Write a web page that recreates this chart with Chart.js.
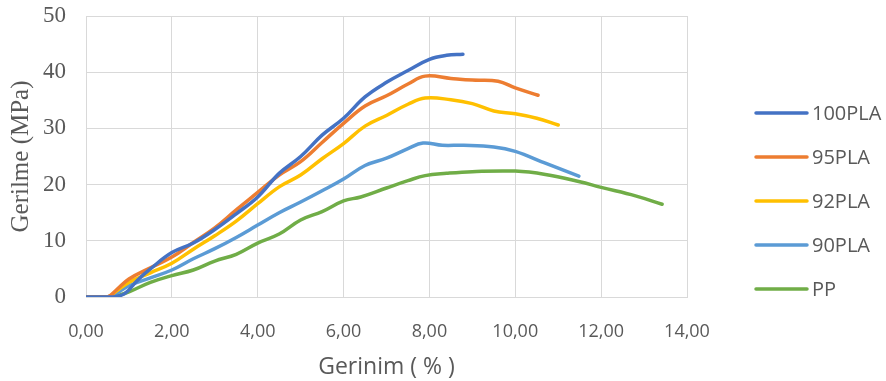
<!DOCTYPE html>
<html>
<head>
<meta charset="utf-8">
<script src="https://cdn.jsdelivr.net/npm/chart.js@4.4.1/dist/chart.umd.min.js"></script>
<style>
  html, body { margin: 0; padding: 0; background: #fff; }
  #wrap { width: 886px; height: 381px; }
</style>
</head>
<body>
<div id="wrap"><canvas id="chart"></canvas></div>
<script>
// strain (%) / stress (MPa)
var strain100 = [0, 0.3, 0.6, 0.9, 1.2, 1.5, 2.0, 2.5, 3.0, 3.5, 4.0, 4.5, 5.0, 5.5, 6.0, 6.5, 7.0, 7.5, 8.0, 8.4, 8.78];
var stress100 = [0, 0, 0, 0.6, 3.0, 5.0, 7.9, 9.6, 12.0, 14.8, 17.8, 22.0, 25.0, 28.8, 31.8, 35.6, 38.2, 40.3, 42.3, 43.0, 43.2];

var strain95 = [0, 0.5, 0.7, 1.0, 1.5, 2.0, 2.5, 3.0, 3.5, 4.0, 4.5, 5.0, 5.5, 6.0, 6.5, 7.0, 7.5, 7.9, 8.5, 9.0, 9.6, 10.0, 10.53];
var stress95 = [0, 0, 1.2, 3.2, 5.2, 7.1, 9.7, 12.3, 15.5, 18.6, 21.7, 24.1, 27.5, 30.9, 34.0, 35.8, 37.9, 39.3, 38.9, 38.6, 38.4, 37.2, 35.9];

var strain92 = [0, 0.5, 0.7, 1.0, 1.5, 2.0, 2.5, 3.0, 3.5, 4.0, 4.5, 5.0, 5.5, 6.0, 6.5, 7.0, 7.5, 7.9, 8.5, 9.0, 9.5, 10.0, 10.5, 11.0];
var stress92 = [0, 0, 1.0, 2.6, 4.3, 6.0, 8.5, 10.9, 13.5, 16.6, 19.6, 21.7, 24.6, 27.3, 30.4, 32.3, 34.3, 35.4, 35.1, 34.4, 33.1, 32.6, 31.8, 30.6];

var strain90 = [0, 0.5, 0.7, 1.0, 1.5, 2.0, 2.5, 3.0, 3.5, 4.0, 4.5, 5.0, 5.5, 6.0, 6.5, 7.0, 7.5, 7.85, 8.3, 8.8, 9.5, 10.0, 10.7, 11.48];
var stress90 = [0, 0, 0.6, 2.0, 3.4, 4.8, 6.8, 8.6, 10.6, 12.8, 15.0, 16.9, 18.9, 21.0, 23.4, 24.7, 26.4, 27.4, 27.0, 27.0, 26.7, 25.9, 23.8, 21.5];

var strainPP = [0, 0.5, 0.8, 1.0, 1.5, 2.0, 2.5, 3.0, 3.5, 4.0, 4.5, 5.0, 5.5, 6.0, 6.4, 7.0, 7.5, 7.9, 8.4, 9.0, 10.0, 10.7, 11.5, 12.0, 12.8, 13.42];
var stressPP = [0, 0, 0.4, 0.9, 2.6, 3.8, 4.8, 6.4, 7.6, 9.6, 11.2, 13.7, 15.2, 17.1, 17.8, 19.4, 20.7, 21.6, 22.0, 22.3, 22.4, 21.8, 20.5, 19.5, 18.0, 16.5];

var seriesNames = ['100PLA', '95PLA', '92PLA', '90PLA', 'PP'];
var seriesColors = ['#4472C4', '#ED7D31', '#FFC000', '#5B9BD5', '#70AD47'];

function pts(xs, ys) {
  return xs.map(function(x, i) { return { x: x, y: ys[i] }; });
}

var allData = [
  pts(strain100, stress100),
  pts(strain95, stress95),
  pts(strain92, stress92),
  pts(strain90, stress90),
  pts(strainPP, stressPP)
];

// legend drawn by hand so the spacing matches
var sideLegend = {
  id: 'sideLegend',
  afterDraw: function(chart) {
    var ctx = chart.ctx;
    ctx.save();
    chart.data.datasets.forEach(function(ds, i) {
      var y = 113 + i * 44;
      ctx.beginPath();
      ctx.strokeStyle = ds.borderColor;
      ctx.lineWidth = 3.5;
      ctx.lineCap = 'round';
      ctx.moveTo(756, y);
      ctx.lineTo(807, y);
      ctx.stroke();
      ctx.fillStyle = '#595959';
      ctx.font = '20px "Open Sans"';
      ctx.textBaseline = 'middle';
      ctx.textAlign = 'left';
      ctx.fillText(ds.label, 812, y + 1);
    });
    ctx.restore();
  }
};

var config = {
  type: 'scatter',
  data: {
    datasets: seriesNames.map(function(name, i) {
      return {
        label: name,
        data: allData[i],
        showLine: true,
        borderColor: seriesColors[i],
        backgroundColor: seriesColors[i],
        borderWidth: 3.5,
        tension: 0.4,
        pointRadius: 0,
        borderCapStyle: 'round'
      };
    })
  },
  options: {
    responsive: true,
    maintainAspectRatio: false,
    animation: false,
    layout: { padding: { left: 0, right: 199, top: 0, bottom: 0 } },
    plugins: {
      legend: { display: false },
      tooltip: { enabled: false }
    },
    scales: {
      x: {
        type: 'linear',
        min: 0,
        max: 14,
        afterFit: function(scale) { scale.height = 84; },
        ticks: {
          stepSize: 2,
          padding: 24,
          color: '#595959',
          font: { family: 'Open Sans', size: 18 },
          callback: function(v) { return v.toFixed(2).replace('.', ','); }
        },
        grid: { color: '#d9d9d9', lineWidth: 1, drawTicks: false },
        border: { color: '#d9d9d9' },
        title: {
          display: true,
          text: 'Gerinim ( % )',
          color: '#595959',
          font: { family: 'Open Sans', size: 23 },
          padding: 0
        }
      },
      y: {
        min: 0,
        max: 50,
        afterFit: function(scale) {
          scale.width = 86;
          scale.paddingTop = 16;
          scale.paddingBottom = 0;
        },
        ticks: {
          stepSize: 10,
          padding: 20,
          color: '#595959',
          font: { family: 'Liberation Serif', size: 23 }
        },
        grid: { color: '#d9d9d9', lineWidth: 1, drawTicks: false },
        border: { color: '#d9d9d9' },
        title: {
          display: true,
          text: 'Gerilme (MPa)',
          color: '#595959',
          font: { family: 'Liberation Serif', size: 25 },
          padding: { top: 6, bottom: 0 }
        }
      }
    }
  },
  plugins: [sideLegend]
};

var chart = new Chart(document.getElementById('chart'), config);
</script>
</body>
</html>
